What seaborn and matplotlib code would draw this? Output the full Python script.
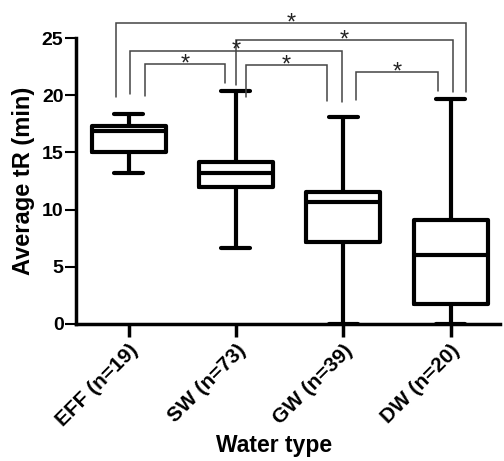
import matplotlib
matplotlib.use("Agg")
import matplotlib.pyplot as plt
import seaborn as sns
import pandas as pd

# Five-number summaries (min, Q1, median, Q3, max)
categories = ["EFF (n=19)", "SW (n=73)", "GW (n=39)", "DW (n=20)"]
whisker_low = [13.2, 6.6, 0.0, 0.0]
q1_values = [15.0, 12.0, 7.15, 1.75]
medians = [16.9, 13.2, 10.7, 6.05]
q3_values = [17.3, 14.2, 11.5, 9.1]
whisker_high = [18.4, 20.4, 18.1, 19.7]

# significance comparisons: (left group, right group, label)
comparisons = [(0, 3, "*"), (1, 3, "*"), (0, 2, "*"), (0, 1, "*"), (1, 2, "*"), (2, 3, "*")]

rows = []
for i, c in enumerate(categories):
    for v in (whisker_low[i], q1_values[i], medians[i], q3_values[i], whisker_high[i]):
        rows.append({"Water type": c, "tR": v})
df = pd.DataFrame(rows)

sns.set_style("ticks")
plt.rcParams["font.family"] = ["Liberation Sans", "DejaVu Sans"]
plt.rcParams["font.weight"] = "bold"
plt.rcParams["text.color"] = "black"
plt.rcParams["xtick.color"] = "black"
plt.rcParams["ytick.color"] = "black"
plt.rcParams["axes.labelcolor"] = "black"
plt.rcParams["axes.edgecolor"] = "black"

fig = plt.figure(figsize=(5.04, 4.61), dpi=100)
ax = fig.add_axes([76 / 504, 1 - 324 / 461, (500 - 76) / 504, (324 - 38) / 461])

lw = 3.0
sns.boxplot(data=df, x="Water type", y="tR", order=categories, whis=(0, 100),
            fill=False, color="black", linewidth=lw, width=0.69, ax=ax,
            capwidths=0.27)

ax.set_xlim(-0.49, 3.46)
ax.set_ylim(0, 25)
ax.set_yticks([0, 5, 10, 15, 20, 25])
ax.tick_params(axis="y", labelsize=14, width=1.5, length=8, pad=1, colors="black")
ax.tick_params(axis="x", labelsize=15, width=2.5, length=9, pad=3, colors="black")
for lbl in ax.get_xticklabels():
    lbl.set_rotation(45)
    lbl.set_ha("right")
    lbl.set_rotation_mode("anchor")
    lbl.set_fontweight("bold")
for lbl in ax.get_yticklabels():
    lbl.set_fontweight("bold")

sns.despine(ax=ax)
ax.spines["left"].set_linewidth(2.5)
ax.spines["bottom"].set_linewidth(2.5)

ax.set_xlabel("Water type", fontsize=16.5, fontweight="bold")
ax.xaxis.set_label_coords(0.467, -0.385)
ax.set_ylabel("Average tR (min)", fontsize=17, fontweight="bold", labelpad=5)

# significance brackets (annotation geometry)
brackets = [
    # x_left, x_right, y_bar, y_left_bottom, y_right_bottom
    (-0.115, 3.14, 26.3, 19.8, 20.3),
    (1.005, 3.02, 24.8, 20.9, 20.3),
    (0.01, 1.99, 23.9, 20.1, 19.4),
    (0.155, 0.90, 22.7, 19.9, 21.1),
    (1.096, 1.85, 22.6, 19.8, 19.5),
    (2.12, 2.88, 22.0, 19.6, 20.4),
]
for (xl, xr, yb, yl, yr), (_, _, lab) in zip(brackets, comparisons):
    ax.plot([xl, xl, xr, xr], [yl, yb, yb, yr], color="#444444", lw=1.1,
            clip_on=False, solid_joinstyle="miter")
    ax.text((xl + xr) / 2, yb - 0.55, lab, ha="center", va="baseline",
            fontsize=17, fontweight="normal", color="#222222", clip_on=False)

fig.savefig("out.png", dpi=100)
